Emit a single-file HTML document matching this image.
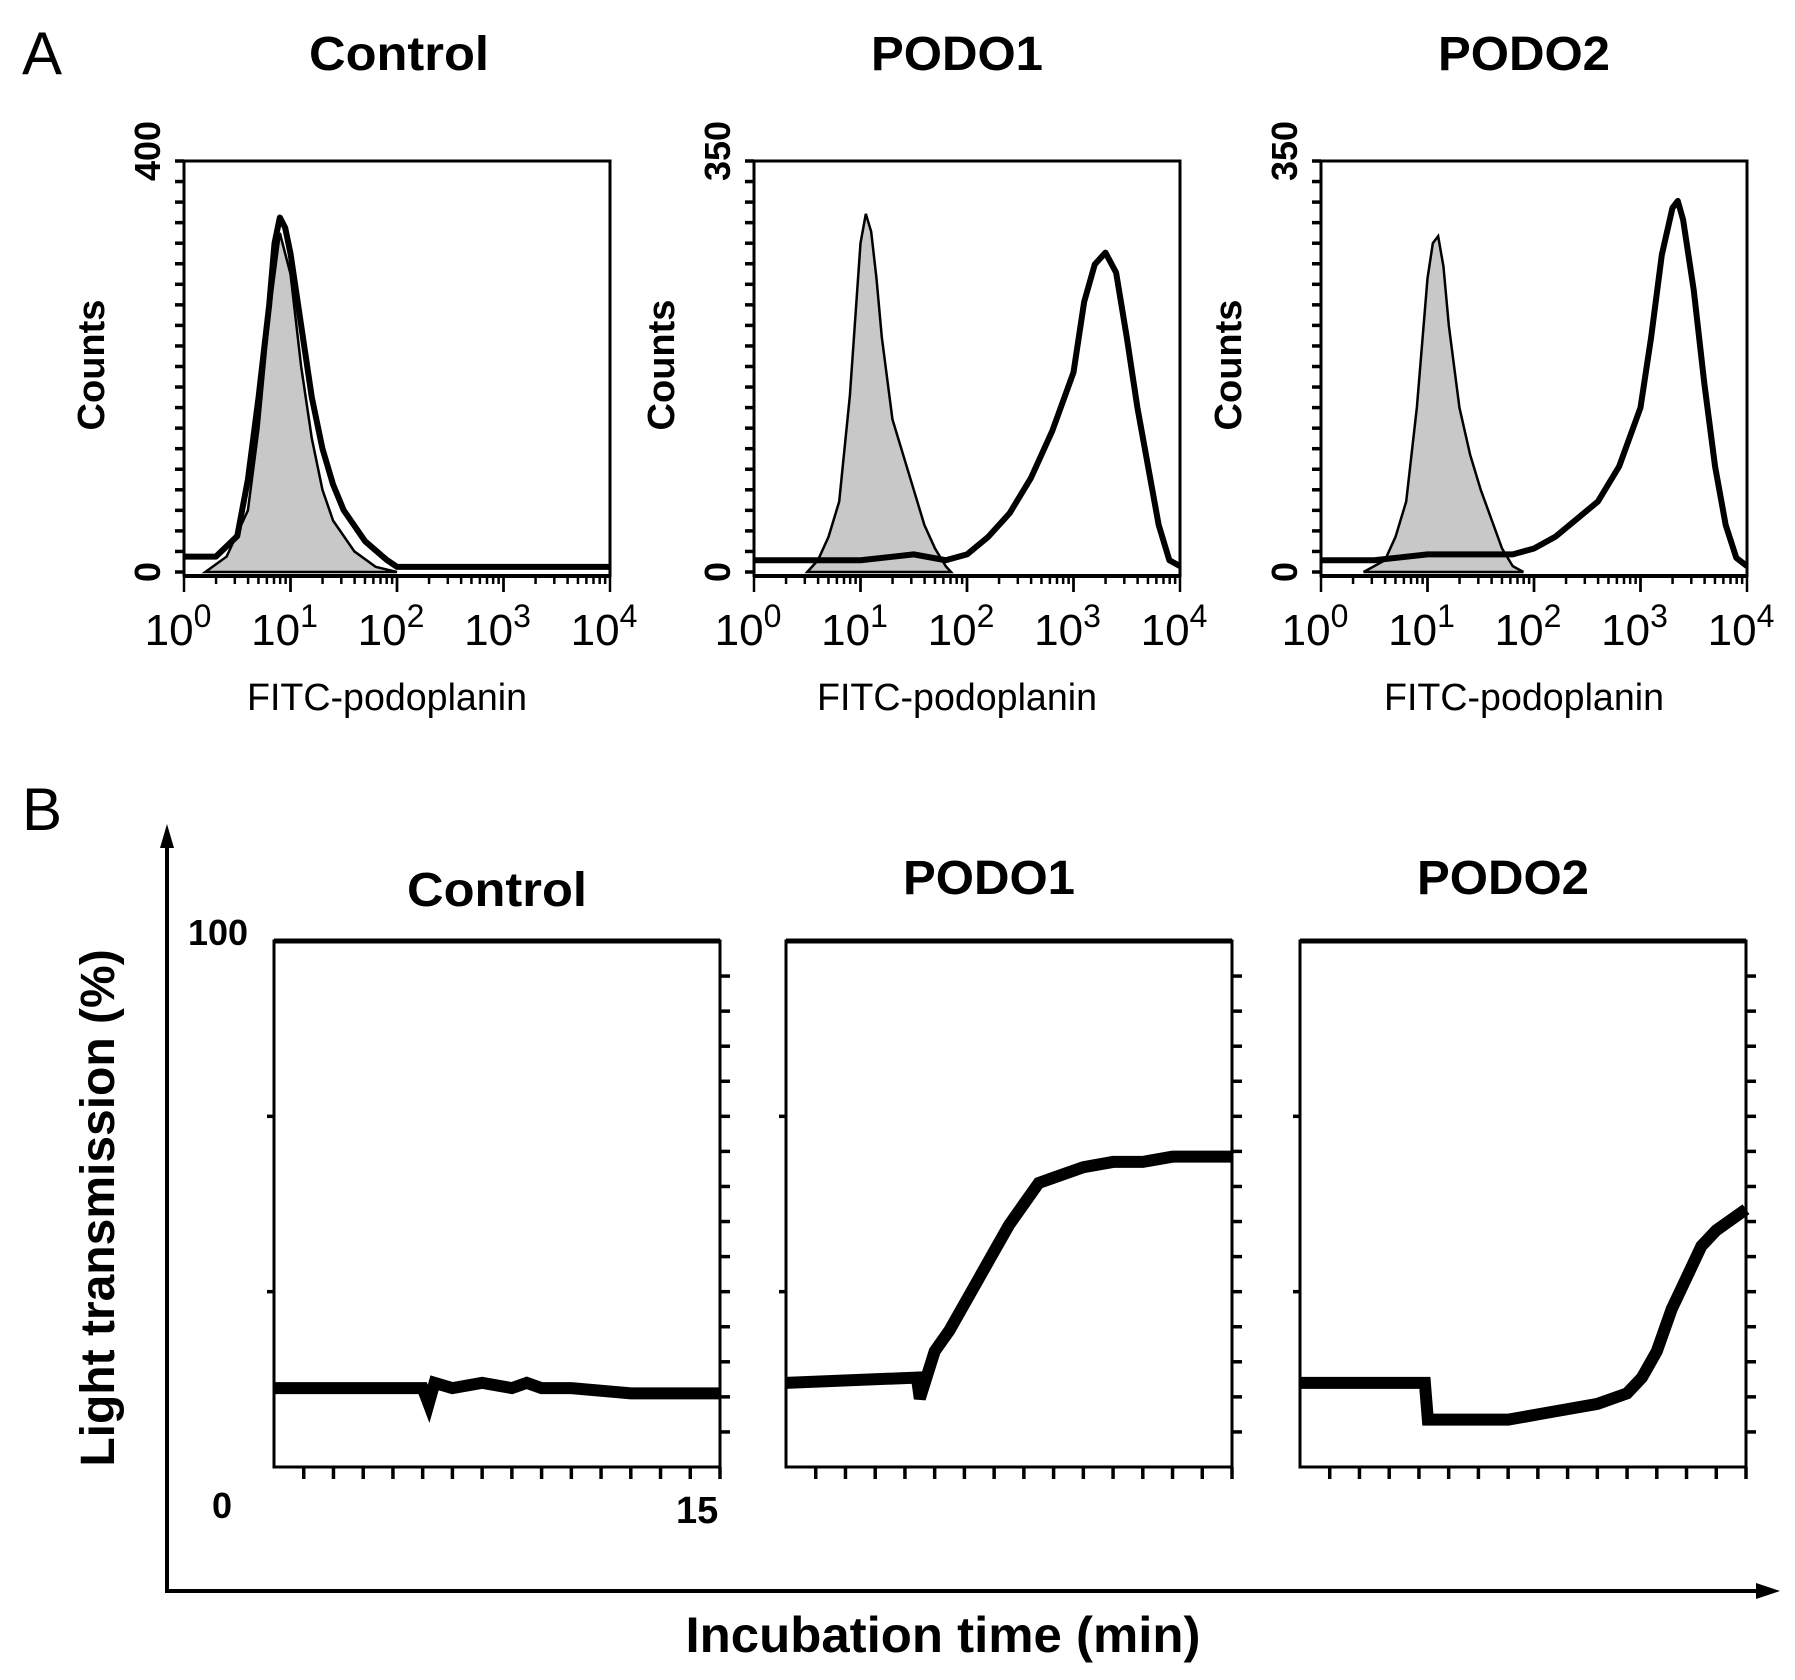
<!DOCTYPE html>
<html><head><meta charset="utf-8"><style>
body{margin:0;background:#fff}
svg{display:block;font-family:"Liberation Sans",Arial,sans-serif}
</style></head><body>
<svg id="fig" width="1795" height="1680" viewBox="0 0 1795 1680">
<text x="22" y="74" font-size="60">A</text>
<text x="22" y="830" font-size="60">B</text>
<g id="pa"></g>
<g id="pb"></g>
</svg>
<script>
// ---- Panel A data (log10 fluorescence vs counts) ----
const histTitles = ["Control","PODO1","PODO2"];
const histYMax = [400,350,350];
const ctrlBlackX = [0,0.3,0.5,0.6,0.7,0.8,0.85,0.9,0.95,1.0,1.1,1.2,1.3,1.4,1.5,1.7,1.9,2.0,2.5,3,3.5,4];
const ctrlBlackY = [15,15,35,90,170,260,320,345,335,310,240,170,120,85,60,30,12,5,5,5,5,5];
const ctrlGrayX = [0.2,0.4,0.6,0.7,0.8,0.9,1.0,1.1,1.2,1.3,1.4,1.6,1.8,2.0];
const ctrlGrayY = [0,15,60,140,250,330,290,200,130,80,50,20,5,0];
const p1GrayX = [0.5,0.6,0.7,0.8,0.9,1.0,1.05,1.1,1.15,1.2,1.3,1.4,1.5,1.6,1.7,1.8,1.85];
const p1GrayY = [0,10,30,60,150,280,305,290,250,200,130,100,70,40,20,5,0];
const p1BlackX = [0,0.5,1,1.5,1.8,2.0,2.2,2.4,2.6,2.8,3.0,3.1,3.2,3.3,3.4,3.5,3.6,3.7,3.8,3.9,4.0];
const p1BlackY = [10,10,10,15,10,15,30,50,80,120,170,230,262,272,255,200,140,90,40,10,5];
const p2GrayX = [0.4,0.6,0.7,0.8,0.9,1.0,1.05,1.1,1.15,1.2,1.3,1.4,1.5,1.6,1.7,1.8,1.9];
const p2GrayY = [0,10,30,60,140,250,280,286,260,210,140,100,70,45,20,5,0];
const p2BlackX = [0,0.5,1,1.5,1.8,2.0,2.2,2.4,2.6,2.8,3.0,3.1,3.2,3.3,3.35,3.4,3.5,3.6,3.7,3.8,3.9,4.0];
const p2BlackY = [10,10,15,15,15,20,30,45,60,90,140,200,270,310,316,300,240,160,90,40,12,5];
// ---- Panel B data (min vs %) ----
const aggTitles = ["Control","PODO1","PODO2"];
const ctrlT = [0,5,5.2,5.4,6,7,8,8.5,9,10,12,15];
const ctrlV = [15,15,12,16,15,16,15,16,15,15,14,14];
const p1T = [0,4.4,4.5,5,5.5,6,6.5,7,7.5,8,8.5,9,10,11,12,13,14,15];
const p1V = [16,17,13,22,26,31,36,41,46,50,54,55,57,58,58,59,59,59];
const p2T = [0,4.2,4.3,5,6,7,8,9,10,11,11.5,12,12.5,13,13.5,14,14.5,15];
const p2V = [16,16,9,9,9,9,10,11,12,14,17,22,30,36,42,45,47,49];

const NS="http://www.w3.org/2000/svg";
function mk(tag,attrs,parent){const e=document.createElementNS(NS,tag);for(const k in attrs)e.setAttribute(k,attrs[k]);parent.appendChild(e);return e;}
const pa=document.getElementById('pa'), pb=document.getElementById('pb');

const hx=[184,754,1321], hw=426, hTop=161, hBot=572;
const grays=[[ctrlGrayX,ctrlGrayY],[p1GrayX,p1GrayY],[p2GrayX,p2GrayY]];
const blacks=[[ctrlBlackX,ctrlBlackY],[p1BlackX,p1BlackY],[p2BlackX,p2BlackY]];
for(let i=0;i<3;i++){
  const x0=hx[i], ymax=histYMax[i];
  const X=v=>x0+v/4*hw, Y=c=>hBot-c/ymax*(hBot-hTop);
  const g=mk('g',{},pa);
  
  
  const t=mk('text',{x:x0+hw/2-(i==0?-2:10),y:70,'font-size':48,'font-weight':'bold','text-anchor':'middle',textLength:i==0?180:172,lengthAdjust:'spacingAndGlyphs'},g);t.textContent=histTitles[i];
  
  const [gx,gy]=grays[i];
  let d='M'+X(gx[0])+','+hBot;gx.forEach((v,k)=>d+=' L'+X(v)+','+Y(gy[k]));d+=' L'+X(gx[gx.length-1])+','+hBot+'Z';
  const gp=mk('path',{d:d,fill:'#c8c8c8',stroke:'#000','stroke-width':2.5},g);
  
  const [bx,by]=blacks[i];
  let d2='';bx.forEach((v,k)=>d2+=(k?' L':'M')+X(v)+','+Y(by[k]));
  const bp=mk('path',{d:d2,fill:'none',stroke:'#000','stroke-width':6,'stroke-linejoin':'round'},g);
  
  mk('path',{d:`M${x0},${hBot+5} V${hTop} H${x0+hw} V${hBot+5}`,fill:'none',stroke:'#000','stroke-width':3},g);
  mk('line',{x1:x0,y1:hBot+4,x2:x0+hw,y2:hBot+4,stroke:'#000','stroke-width':4},g);
  for(let k=0;k<=20;k++){const yy=hBot-k/20*(hBot-hTop);mk('line',{x1:x0-9,y1:yy,x2:x0,y2:yy,stroke:'#000','stroke-width':3.5},g);}
  for(let dcd=0;dcd<4;dcd++)for(let m=1;m<=10;m++){const xx=X(dcd+Math.log10(m));const L=(m==1||m==10)?16:8;mk('line',{x1:xx,y1:hBot+4,x2:xx,y2:hBot+4+L,stroke:'#000','stroke-width':2.5},g);}
  for(let k=0;k<=4;k++){const tt=mk('text',{x:X(k)-6,y:645,'font-size':44,'text-anchor':'middle'},g);tt.innerHTML='10<tspan dy="-18" font-size="32">'+k+'</tspan>';
    }
  const xl=mk('text',{x:x0+hw/2-10,y:710,'font-size':38,'text-anchor':'middle',textLength:280,lengthAdjust:'spacingAndGlyphs'},g);xl.textContent='FITC-podoplanin';
  
  const yl=mk('text',{x:0,y:0,'font-size':38,'font-weight':'bold','text-anchor':'middle',transform:`translate(${x0-80},365) rotate(-90)`},g);yl.textContent='Counts';
  
  const ym=mk('text',{x:0,y:0,'font-size':36,'font-weight':'bold','text-anchor':'middle',transform:`translate(${x0-24},${hTop-10}) rotate(-90)`},g);ym.textContent=ymax;
  
  const y0=mk('text',{x:0,y:0,'font-size':36,'font-weight':'bold','text-anchor':'middle',transform:`translate(${x0-24},${hBot}) rotate(-90)`},g);y0.textContent='0';
  
}

const bx0=[274,786,1300], bw=446, bTop=941, bBot=1467;
const aggT=[ctrlT,p1T,p2T], aggV=[ctrlV,p1V,p2V];
const titleY=[906,894,894];
for(let i=0;i<3;i++){
  const x0=bx0[i];
  const X=t=>x0+t/15*bw, Y=v=>bBot-v/100*(bBot-bTop);
  const g=mk('g',{},pb);
  
  
  const t=mk('text',{x:x0+bw/2-(i==0?0:20),y:titleY[i],'font-size':48,'font-weight':'bold','text-anchor':'middle',textLength:i==0?180:172,lengthAdjust:'spacingAndGlyphs'},g);t.textContent=aggTitles[i];
  
  mk('rect',{x:x0,y:bTop,width:bw,height:bBot-bTop,fill:'none',stroke:'#000','stroke-width':3},g);
  mk('line',{x1:x0,y1:bTop,x2:x0+bw,y2:bTop,stroke:'#000','stroke-width':5},g);
  for(let k=1;k<=15;k++){mk('line',{x1:X(k),y1:bBot,x2:X(k),y2:bBot+12,stroke:'#000','stroke-width':3.5},g);}
  for(let k=1;k<=14;k++){const yy=bBot-k/15*(bBot-bTop);mk('line',{x1:x0+bw,y1:yy,x2:x0+bw+10,y2:yy,stroke:'#000','stroke-width':3.5},g);}
  [1/3,2/3].forEach(f=>{const yy=bBot-f*(bBot-bTop);mk('line',{x1:x0-7,y1:yy,x2:x0,y2:yy,stroke:'#000','stroke-width':3.5},g);});
  let d='';aggT[i].forEach((v,k)=>d+=(k?' L':'M')+X(v)+','+Y(aggV[i][k]));
  const p=mk('path',{d:d,fill:'none',stroke:'#000','stroke-width':12,'stroke-linejoin':'miter'},g);
  
}
function txt(s,a,name){const e=mk('text',a,pb);e.textContent=s;return e;}
txt('100',{x:188,y:945,'font-size':36,'font-weight':'bold'},'y-max-label');
txt('0',{x:212,y:1518,'font-size':36,'font-weight':'bold'},'y-zero-label');
txt('15',{x:676,y:1523,'font-size':38,'font-weight':'bold'},'x-max-label');
mk('line',{x1:167,y1:840,x2:167,y2:1591,stroke:'#000','stroke-width':4},pb);
mk('polygon',{points:'167,824 160,848 174,848',fill:'#000'},pb);
mk('line',{x1:165,y1:1591,x2:1762,y2:1591,stroke:'#000','stroke-width':4},pb);
mk('polygon',{points:'1780,1591 1756,1583 1756,1599',fill:'#000'},pb);
txt('Incubation time (min)',{x:943,y:1652,'font-size':50,'font-weight':'bold','text-anchor':'middle',textLength:515,lengthAdjust:'spacingAndGlyphs'},'x-axis-title');
txt('Light transmission (%)',{x:0,y:0,'font-size':48,'font-weight':'bold','text-anchor':'middle',transform:'translate(114,1208) rotate(-90)'},'y-axis-title');
</script>
</body></html>
